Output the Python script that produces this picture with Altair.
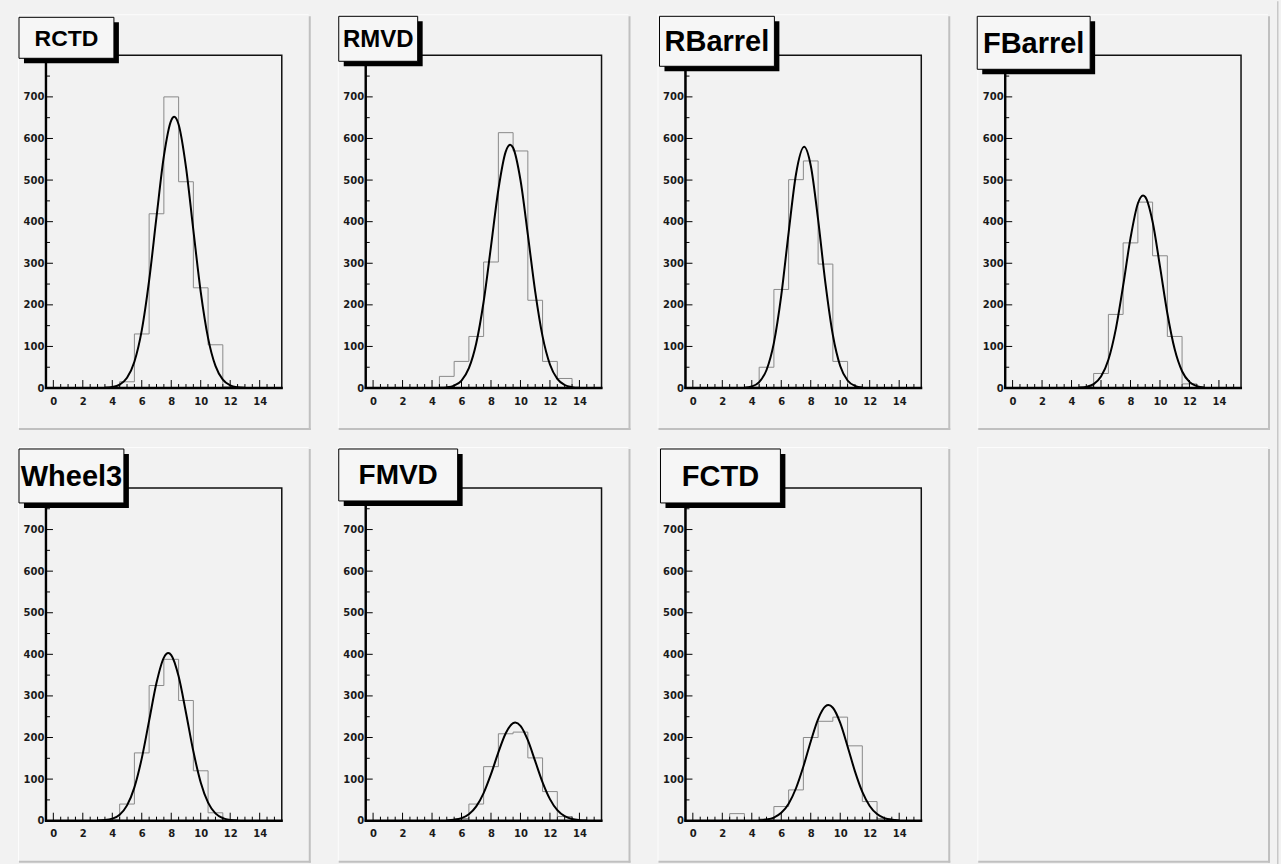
import altair as alt
import pandas as pd

# ---------------- data ----------------
names = ["RCTD", "RMVD", "RBarrel", "FBarrel", "Wheel3", "FMVD", "FCTD"]
bin_centers = list(range(16))  # bins of width 1 from -0.5 to 15.5

rctd_counts = [0, 0, 0, 0, 2, 15, 130, 419, 700, 496, 241, 104, 3, 0, 0, 0]
rmvd_counts = [0, 0, 0, 0, 0, 28, 64, 124, 303, 614, 570, 211, 64, 23, 0, 0]
rbarrel_counts = [0, 0, 0, 0, 2, 50, 237, 501, 546, 298, 64, 0, 0, 0, 0, 0]
fbarrel_counts = [0, 0, 0, 0, 0, 3, 35, 177, 349, 447, 318, 124, 10, 0, 0, 0]
wheel3_counts = [0, 0, 0, 0, 3, 40, 163, 325, 388, 289, 120, 19, 0, 0, 0, 0]
fmvd_counts = [0, 0, 0, 0, 0, 0, 5, 40, 130, 209, 213, 151, 70, 10, 0, 0]
fctd_counts = [0, 0, 0, 17, 0, 4, 34, 74, 200, 239, 249, 180, 46, 5, 0, 0]

# fitted curves, points
rctd_fit_x = [3.5, 4.0, 4.5, 5.0, 5.5, 6.0, 6.5, 7.0, 7.5, 8.0, 8.2, 8.5, 9.0, 9.5, 10.0, 10.5, 11.0, 11.5, 12.0, 12.5, 13.0]
rctd_fit_y = [0.6, 2.3, 8.2, 24.6, 63.3, 138.5, 258.6, 411.3, 557.4, 643.7, 652, 633.5, 531.2, 379.7, 231.2, 120.0, 53.1, 20.0, 6.4, 1.8, 0.4]

rmvd_fit_x = [4.5, 5.0, 5.5, 6.0, 6.5, 7.0, 7.5, 8.0, 8.5, 9.0, 9.3, 9.5, 10.0, 10.5, 11.0, 11.5, 12.0, 12.5, 13.0, 13.5, 14.0]
rmvd_fit_y = [0.4, 1.6, 5.8, 18.0, 47.6, 107.6, 207.4, 340.6, 476.7, 568.4, 585, 577.6, 500.1, 369.0, 232.0, 124.3, 56.7, 22.1, 7.3, 2.1, 0.5]

rbarrel_fit_x = [3.5, 4.0, 4.5, 5.0, 5.5, 6.0, 6.5, 7.0, 7.55, 8.0, 8.5, 9.0, 9.5, 10.0, 10.5, 11.0, 11.5]
rbarrel_fit_y = [0.8, 3.8, 14.2, 43.4, 108.6, 222.6, 373.8, 514.1, 580, 535.1, 404.8, 250.9, 127.4, 53.0, 18.1, 5.0, 1.2]

fbarrel_fit_x = [4.5, 5.0, 5.5, 6.0, 6.5, 7.0, 7.5, 8.0, 8.5, 8.85, 9.0, 9.5, 10.0, 10.5, 11.0, 11.5, 12.0, 12.5, 13.0]
fbarrel_fit_y = [0.6, 2.7, 9.4, 27.6, 68.0, 141.1, 245.9, 360.3, 443.7, 463, 459.4, 399.8, 292.5, 179.9, 93.0, 40.4, 14.8, 4.5, 1.2]

wheel3_fit_x = [3.0, 3.5, 4.0, 4.5, 5.0, 5.5, 6.0, 6.5, 7.0, 7.5, 7.8, 8.0, 8.5, 9.0, 9.5, 10.0, 10.5, 11.0, 11.5, 12.0, 12.5]
wheel3_fit_y = [0.4, 1.4, 4.9, 14.5, 36.8, 80.2, 149.9, 240.6, 331.5, 392.1, 403, 398.1, 347.0, 259.7, 166.8, 92.0, 43.6, 17.7, 6.2, 1.8, 0.5]

fmvd_fit_x = [5.0, 5.5, 6.0, 6.5, 7.0, 7.5, 8.0, 8.5, 9.0, 9.5, 9.65, 10.0, 10.5, 11.0, 11.5, 12.0, 12.5, 13.0, 13.5, 14.0, 14.5]
fmvd_fit_y = [0.6, 2.1, 6.1, 15.5, 34.4, 66.4, 111.8, 164.2, 210.2, 234.5, 236, 228.2, 193.6, 143.1, 92.3, 51.9, 25.4, 10.9, 4.0, 1.3, 0.4]

fctd_fit_x = [4.5, 5.0, 5.5, 6.0, 6.5, 7.0, 7.5, 8.0, 8.5, 9.0, 9.2, 9.5, 10.0, 10.5, 11.0, 11.5, 12.0, 12.5, 13.0, 13.5, 14.0]
fctd_fit_y = [0.8, 2.7, 7.6, 18.9, 41.0, 78.0, 130.2, 190.5, 244.4, 275.1, 278, 271.5, 235.0, 178.4, 118.7, 69.3, 35.5, 15.9, 6.3, 2.2, 0.7]

x_major_ticks = [0, 2, 4, 6, 8, 10, 12, 14]
x_minor_ticks = [0.5, 1, 1.5, 2.5, 3, 3.5, 4.5, 5, 5.5, 6.5, 7, 7.5, 8.5, 9, 9.5,
                 10.5, 11, 11.5, 12.5, 13, 13.5, 14.5, 15]
y_major_ticks = [0, 100, 200, 300, 400, 500, 600, 700]
y_minor_ticks = [50, 150, 250, 350, 450, 550, 650, 750]

counts = [rctd_counts, rmvd_counts, rbarrel_counts, fbarrel_counts,
          wheel3_counts, fmvd_counts, fctd_counts]
fits = [(rctd_fit_x, rctd_fit_y), (rmvd_fit_x, rmvd_fit_y), (rbarrel_fit_x, rbarrel_fit_y),
        (fbarrel_fit_x, fbarrel_fit_y), (wheel3_fit_x, wheel3_fit_y),
        (fmvd_fit_x, fmvd_fit_y), (fctd_fit_x, fctd_fit_y)]

# ---------------- layout / style ----------------
W, H = 236, 333
FONT = "Liberation Sans"
AXFONT = "DejaVu Sans"
BG = "#f2f2f2"

# title boxes: (x0, x1, y0, y1, fontsize) relative to the frame
title_boxes = [(-27, 68, -38, 3, 23), (-27, 52, -39, 6, 24), (-26, 89, -39, 11, 29),
               (-28, 85, -39, 14, 29), (-27, 78, -39, 15, 29), (-27, 92, -39, 13, 28),
               (-25, 95, -39, 15, 29)]

one = pd.DataFrame({"k": [0]})
xs = alt.Scale(domain=[-0.5, 15.5], nice=False, zero=False)
ys = alt.Scale(domain=[0, 800], nice=False)

x_axis = alt.Axis(values=x_major_ticks, title=None, grid=False, ticks=False, tickSize=0,
                  domain=False, labelFont=AXFONT, labelFontSize=10, labelFontWeight="bold",
                  labelColor="#1a1a1a", labelPadding=8, labelFlush=False,
                  labelOverlap=False, zindex=1)
y_axis = alt.Axis(values=y_major_ticks, title=None, grid=False, ticks=False, tickSize=0,
                  domain=False, labelFont=AXFONT, labelFontSize=10, labelFontWeight="bold",
                  labelColor="#1a1a1a", labelPadding=2, labelFlush=False,
                  labelOverlap=False, zindex=1)


def rect(x0, x1, y0, y1, **kw):
    return alt.Chart(one).mark_rect(**kw).encode(
        x=alt.value(x0), x2=alt.value(x1), y=alt.value(y0), y2=alt.value(y1))


def panel_edges(last_col):
    hi, lo = "#fcfcfc", "#c0c0c0"
    layers = [
        rect(-28, W + 27, -41, -40, fill=hi),          # top highlight
        rect(-28, -27, -41, H + 40, fill=hi),          # left highlight
        rect(-27, W + 29, H + 40, H + 42, fill=lo),    # bottom shadow
        rect(W + 27, W + 29, -39, H + 42, fill=lo),    # right shadow
    ]
    if last_col:
        layers.append(rect(W + 36, W + 37.5, -54, H + 46, fill="#c8c8c8"))
    return layers


def make_panel(i):
    name = names[i]
    hist_df = pd.DataFrame({
        "x": [c - 0.5 for c in bin_centers] + [bin_centers[-1] + 0.5],
        "n": counts[i] + [counts[i][-1]],
    })
    fit_df = pd.DataFrame({"x": fits[i][0], "y": fits[i][1]})
    xmaj = pd.DataFrame({"x": x_major_ticks})
    xmin = pd.DataFrame({"x": x_minor_ticks})
    ymaj = pd.DataFrame({"y": y_major_ticks})
    ymin = pd.DataFrame({"y": y_minor_ticks})

    X = alt.X("x:Q", scale=xs, axis=x_axis)
    Y = alt.Y("y:Q", scale=ys, axis=y_axis)

    hist = alt.Chart(hist_df).mark_line(interpolate="step-after", color="#8a8a8a",
                                        strokeWidth=1).encode(
        x=X, y=alt.Y("n:Q", scale=ys, axis=y_axis))
    fit = alt.Chart(fit_df).mark_line(interpolate="monotone", color="black",
                                      strokeWidth=2).encode(x=X, y=Y)
    xt_major = alt.Chart(xmaj).mark_rule(color="black", strokeWidth=1).encode(
        x=X, y=alt.value(H), y2=alt.value(H - 8))
    xt_minor = alt.Chart(xmin).mark_rule(color="black", strokeWidth=1).encode(
        x=X, y=alt.value(H), y2=alt.value(H - 4))
    yt_major = alt.Chart(ymaj).mark_rule(color="black", strokeWidth=1).encode(
        y=Y, x=alt.value(0), x2=alt.value(7))
    yt_minor = alt.Chart(ymin).mark_rule(color="black", strokeWidth=1).encode(
        y=Y, x=alt.value(0), x2=alt.value(4))

    frame = rect(0, W, 0, H, fill="transparent", stroke="#111111", strokeWidth=1.5)
    left_axis = rect(-1.2, 1.2, -1, H + 1, fill="black")
    bottom_axis = rect(-1, W + 1, H - 1.2, H + 1.2, fill="black")

    x0, x1, y0, y1, fs = title_boxes[i]
    box_shadow = rect(x0 + 5, x1 + 5, y0 + 5, y1 + 5, fill="black")
    box = rect(x0, x1, y0, y1, fill="#f6f6f6", stroke="black", strokeWidth=1)
    label = alt.Chart(one).mark_text(text=name, font=FONT, fontSize=fs, fontWeight="bold",
                                     color="black", align="center", baseline="middle",
                                     dy=1).encode(
        x=alt.value((x0 + x1) / 2), y=alt.value((y0 + y1) / 2))

    layers = panel_edges(i % 4 == 3) + [
        hist, fit, xt_major, xt_minor, yt_major, yt_minor,
        frame, left_axis, bottom_axis, box_shadow, box, label]
    return alt.layer(*layers).properties(width=W, height=H)


panels = [make_panel(i) for i in range(7)]
empty = alt.layer(*panel_edges(True)).properties(width=W, height=H)
panels.append(empty)

chart = alt.concat(*panels, columns=4,
                   spacing=alt.RowColnumber(row=100, column=84),
                   bounds="flush").properties(
    padding={"left": 17, "top": 0, "right": 2, "bottom": 0},
    background=BG,
).configure_view(stroke="transparent")

chart.save("out.html", embed_options={"renderer": "svg", "actions": False})
